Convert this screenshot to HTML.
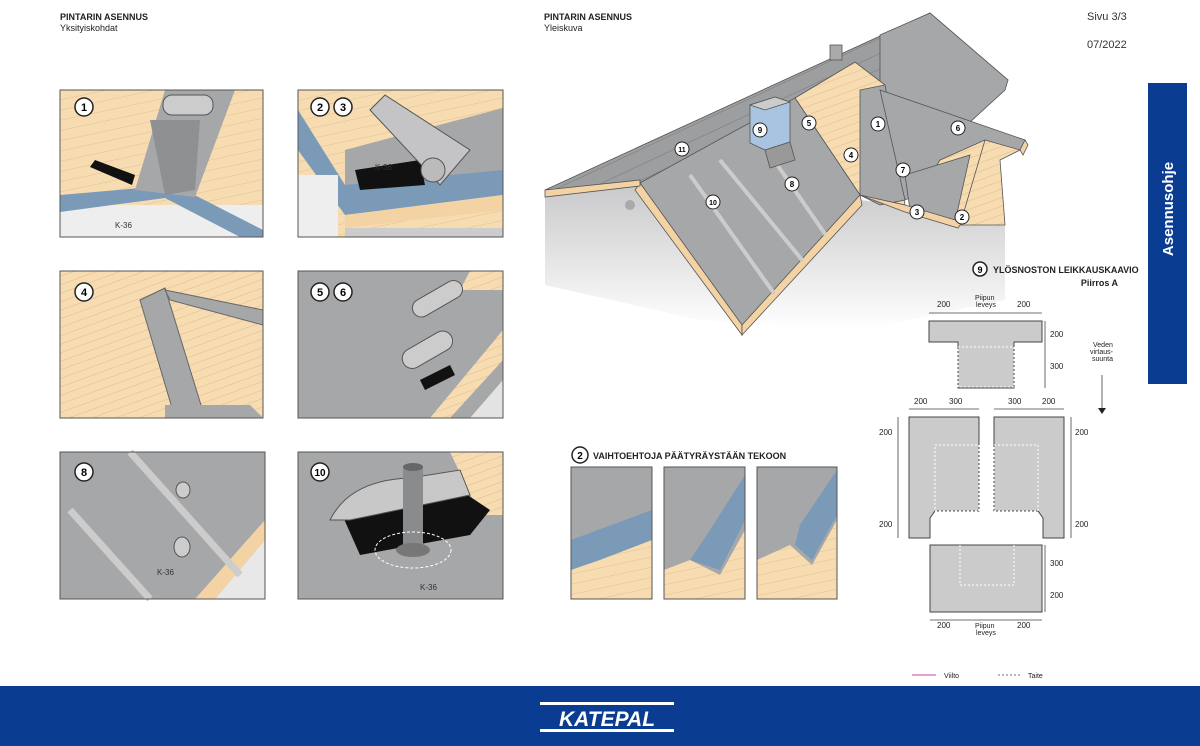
<!DOCTYPE html>
<html><head><meta charset="utf-8"><style>
body{margin:0;width:1200px;height:746px;overflow:hidden;background:#fff;font-family:"Liberation Sans",sans-serif}
svg{position:absolute;left:0;top:0}
</style></head><body>
<svg width="1200" height="746" viewBox="0 0 1200 746" font-family="Liberation Sans, sans-serif">
<defs>
<pattern id="wood" width="8" height="8" patternUnits="userSpaceOnUse" patternTransform="rotate(-20)"><rect width="8" height="8" fill="#f7dcb2"/><line x1="0" y1="0" x2="8" y2="0" stroke="#e0b98a" stroke-width="1"/></pattern>
<pattern id="woodh" width="10" height="10" patternUnits="userSpaceOnUse" patternTransform="rotate(-12)"><rect width="10" height="10" fill="#f7dcb2"/><line x1="0" y1="0" x2="10" y2="0" stroke="#e3bf92" stroke-width="1"/></pattern>
<pattern id="stripe" width="14" height="14" patternUnits="userSpaceOnUse" patternTransform="rotate(-25)"><rect width="14" height="14" fill="#9d9ea0"/><line x1="0" y1="0" x2="14" y2="0" stroke="#777" stroke-width="1"/></pattern>
<linearGradient id="wall" x1="0" y1="0" x2="0" y2="1"><stop offset="0" stop-color="#c9c9cb"/><stop offset="1" stop-color="#fff"/></linearGradient>
<clipPath id="face"><polygon points="640,183 795,98 860,195 742,330"/></clipPath>
</defs>
<!-- headers -->
<g font-weight="bold" font-size="9" fill="#222">
<text x="60" y="20">PINTARIN ASENNUS</text><text x="60" y="31" font-weight="normal">Yksityiskohdat</text>
<text x="544" y="20">PINTARIN ASENNUS</text><text x="544" y="31" font-weight="normal">Yleiskuva</text>
</g>
<text x="1087" y="20" font-size="11" fill="#333">Sivu 3/3</text>
<text x="1087" y="48" font-size="11" fill="#333">07/2022</text>
<rect x="1148" y="83" width="39" height="301" fill="#0a3d91"/>
<text transform="translate(1173,209) rotate(-90)" font-size="15" font-weight="bold" fill="#fff" text-anchor="middle">Asennusohje</text>

<!-- panel 1 -->
<g>
<rect x="60" y="90" width="203" height="147" fill="url(#woodh)"/>
<rect x="60" y="205" width="203" height="32" fill="#eee"/>
<polygon points="60,195 175,185 263,230 263,237 240,237 165,198 60,212" fill="#7a9ab8"/>
<polygon points="135,190 165,90 235,90 195,197" fill="#a6a7a9"/>
<polygon points="150,120 200,120 195,190 165,195" fill="#8f9092"/>
<rect x="163" y="95" width="50" height="20" rx="9" fill="#ccc" stroke="#555"/>
<polygon points="95,160 135,175 132,185 90,167" fill="#111"/>
<circle cx="84" cy="107" r="9" fill="#fff" stroke="#222" stroke-width="1.5"/><text x="84" y="111" font-size="11" font-weight="bold" text-anchor="middle">1</text>
<text x="115" y="228" font-size="8" fill="#333">K-36</text>
<rect x="60" y="90" width="203" height="147" fill="none" stroke="#555"/>
</g>
<!-- panel 2 -->
<g>
<rect x="298" y="90" width="205" height="147" fill="url(#woodh)"/>
<polygon points="345,150 503,108 503,180 345,200" fill="#a6a7a9"/>
<polygon points="298,110 345,185 503,170 503,195 345,215 298,150" fill="#7a9ab8"/>
<polygon points="345,215 503,195 503,210 345,228" fill="#f3d3a4"/>
<rect x="298" y="175" width="40" height="62" fill="#eee"/>
<rect x="345" y="228" width="158" height="9" fill="#ccc"/>
<polygon points="355,170 420,160 425,185 360,190" fill="#111"/>
<polygon points="370,110 385,95 470,150 440,185" fill="#c4c4c6" stroke="#555"/>
<circle cx="433" cy="170" r="12" fill="#bbb" stroke="#555"/>
<circle cx="320" cy="107" r="9" fill="#fff" stroke="#222" stroke-width="1.5"/><text x="320" y="111" font-size="11" font-weight="bold" text-anchor="middle">2</text>
<circle cx="343" cy="107" r="9" fill="#fff" stroke="#222" stroke-width="1.5"/><text x="343" y="111" font-size="11" font-weight="bold" text-anchor="middle">3</text>
<text x="375" y="170" font-size="8" fill="#333">K-36</text>
<rect x="298" y="90" width="205" height="147" fill="none" stroke="#555"/>
</g>
<!-- panel 4 -->
<g>
<rect x="60" y="271" width="203" height="147" fill="url(#wood)"/>
<polygon points="140,300 165,288 205,418 175,418" fill="#a6a7a9" stroke="#666"/>
<polygon points="165,290 263,310 263,325 170,300" fill="#a6a7a9" stroke="#666"/>
<polygon points="165,405 250,405 263,418 165,418" fill="#a6a7a9"/>
<circle cx="84" cy="292" r="9" fill="#fff" stroke="#222" stroke-width="1.5"/><text x="84" y="296" font-size="11" font-weight="bold" text-anchor="middle">4</text>
<rect x="60" y="271" width="203" height="147" fill="none" stroke="#555"/>
</g>
<!-- panel 5 -->
<g>
<rect x="298" y="271" width="205" height="147" fill="#a6a7a9"/>
<polygon points="430,418 503,330 503,271 470,271 460,290 503,290 503,360 450,418" fill="url(#wood)"/>
<polygon points="470,418 503,380 503,418" fill="#e3e3e3"/>
<rect x="410" y="290" width="55" height="18" rx="9" fill="#ccc" stroke="#555" transform="rotate(-30 437 299)"/>
<rect x="400" y="340" width="55" height="20" rx="10" fill="#ccc" stroke="#555" transform="rotate(-30 427 350)"/>
<polygon points="420,380 450,365 455,375 425,390" fill="#111"/>
<circle cx="320" cy="292" r="9" fill="#fff" stroke="#222" stroke-width="1.5"/><text x="320" y="296" font-size="11" font-weight="bold" text-anchor="middle">5</text>
<circle cx="343" cy="292" r="9" fill="#fff" stroke="#222" stroke-width="1.5"/><text x="343" y="296" font-size="11" font-weight="bold" text-anchor="middle">6</text>
<rect x="298" y="271" width="205" height="147" fill="none" stroke="#555"/>
</g>
<!-- panel 8 -->
<g>
<rect x="60" y="452" width="205" height="147" fill="#a6a7a9"/>
<polygon points="195,599 265,520 265,540 215,599" fill="#f3d3a4"/>
<polygon points="215,599 265,540 265,599" fill="#e8e8e8"/>
<line x1="70" y1="510" x2="150" y2="599" stroke="#ccc" stroke-width="7"/>
<line x1="130" y1="452" x2="240" y2="575" stroke="#ccc" stroke-width="7"/>
<ellipse cx="183" cy="490" rx="7" ry="8" fill="#ccc" stroke="#555"/>
<ellipse cx="182" cy="547" rx="8" ry="10" fill="#ccc" stroke="#555"/>
<circle cx="84" cy="472" r="9" fill="#fff" stroke="#222" stroke-width="1.5"/><text x="84" y="476" font-size="11" font-weight="bold" text-anchor="middle">8</text>
<text x="157" y="575" font-size="8" fill="#333">K-36</text>
<rect x="60" y="452" width="205" height="147" fill="none" stroke="#555"/>
</g>
<!-- panel 10 -->
<g>
<rect x="298" y="452" width="205" height="147" fill="#a6a7a9"/>
<polygon points="450,452 503,452 503,515 480,515" fill="url(#wood)"/>
<polygon points="340,510 460,490 490,510 470,535 360,555" fill="#111"/>
<path d="M330,520 Q350,480 410,478 L460,470 L470,495 L350,520Z" fill="#c8c8c8" stroke="#555"/>
<rect x="403" y="467" width="20" height="80" fill="#8a8b8d"/>
<ellipse cx="413" cy="467" rx="10" ry="4" fill="#666"/>
<ellipse cx="413" cy="550" rx="17" ry="7" fill="#777"/>
<ellipse cx="413" cy="550" rx="38" ry="18" fill="none" stroke="#fff" stroke-dasharray="3 2"/>
<circle cx="320" cy="472" r="9" fill="#fff" stroke="#222" stroke-width="1.5"/><text x="320" y="476" font-size="10" font-weight="bold" text-anchor="middle">10</text>
<text x="420" y="590" font-size="8" fill="#333">K-36</text>
<rect x="298" y="452" width="205" height="147" fill="none" stroke="#555"/>
</g>
<!-- alternatives -->
<circle cx="580" cy="455" r="8" fill="#fff" stroke="#222" stroke-width="1.5"/><text x="580" y="459" font-size="10" font-weight="bold" text-anchor="middle">2</text>
<text x="593" y="459" font-size="9" font-weight="bold" fill="#222">VAIHTOEHTOJA PÄÄTYRÄYSTÄÄN TEKOON</text>
<g>
<rect x="571" y="467" width="81" height="132" fill="#a6a7a9"/>
<polygon points="571,540 652,510 652,540 600,560 571,570" fill="#7a9ab8"/>
<polygon points="571,570 600,560 652,540 652,599 571,599" fill="url(#woodh)"/>
<rect x="571" y="467" width="81" height="132" fill="none" stroke="#555"/>
<rect x="664" y="467" width="81" height="132" fill="#a6a7a9"/>
<polygon points="710,530 745,475 745,520 720,570 690,560" fill="#7a9ab8"/>
<polygon points="664,570 690,560 720,575 745,530 745,599 664,599" fill="url(#woodh)"/>
<rect x="664" y="467" width="81" height="132" fill="none" stroke="#555"/>
<rect x="757" y="467" width="80" height="132" fill="#a6a7a9"/>
<polygon points="800,525 837,470 837,515 812,560 795,545" fill="#7a9ab8"/>
<polygon points="757,560 790,545 812,565 837,520 837,599 757,599" fill="url(#woodh)"/>
<rect x="757" y="467" width="80" height="132" fill="none" stroke="#555"/>
</g>
<!-- overview roof -->
<polygon points="545,195 640,185 742,330 860,200 905,205 1005,225 1005,300 860,330 700,320 545,285" fill="url(#wall)"/>
<g stroke="#555" stroke-width="0.8">
<polygon points="545,190 930,13 1008,80 960,120 640,183" fill="url(#stripe)"/>
<polygon points="880,35 930,13 1008,80 1005,90 945,145 880,90" fill="#a6a7a9"/>
<polygon points="795,98 855,62 885,85 905,205 860,195" fill="url(#wood)"/>
<polygon points="640,183 795,98 860,195 742,330" fill="#a6a7a9"/>
<polygon points="860,90 885,85 905,200 880,205 860,195" fill="#a6a7a9"/>
<polygon points="880,90 1025,140 1020,150 905,200" fill="#a6a7a9"/>
<polygon points="940,160 985,140 975,200 955,225 910,210" fill="url(#wood)"/>
<polygon points="905,175 970,155 955,222 910,210" fill="#a6a7a9"/>
<polygon points="1020,150 1000,160 1005,225 960,225 985,140" fill="url(#wood)"/>
<polygon points="640,183 742,325 742,335 635,190" fill="#f3d3a4"/>
<polygon points="742,325 860,195 862,205 742,335" fill="#f3d3a4"/>
<polygon points="545,190 640,180 640,186 545,197" fill="#f3d3a4"/>
<polygon points="860,195 905,212 958,228 962,222 905,205" fill="#f3d3a4"/>
<polygon points="1020,150 1025,140 1028,145 1023,155" fill="#f3d3a4"/>
</g>
<g stroke="#ccc" stroke-width="4" clip-path="url(#face)">
<line x1="690" y1="175" x2="800" y2="330"/><line x1="720" y1="160" x2="835" y2="300"/><line x1="760" y1="140" x2="850" y2="270"/>
</g>
<g stroke="#555" stroke-width="0.8">
<polygon points="750,105 775,97 790,102 790,142 765,150 750,143" fill="#a8c4e0"/>
<polygon points="750,105 775,97 790,102 765,110" fill="#ccc"/>
<polygon points="765,150 790,142 795,160 770,168" fill="#999"/>
<rect x="830" y="45" width="12" height="15" fill="#aaa"/>
</g>
<circle cx="630" cy="205" r="5" fill="#aaa"/>
<g font-size="8" font-weight="bold" text-anchor="middle">
<g fill="#fff" stroke="#222" stroke-width="1"><circle cx="760" cy="130" r="7"/><circle cx="809" cy="123" r="7"/><circle cx="878" cy="124" r="7"/><circle cx="958" cy="128" r="7"/><circle cx="851" cy="155" r="7"/><circle cx="903" cy="170" r="7"/><circle cx="792" cy="184" r="7"/><circle cx="682" cy="149" r="7"/><circle cx="713" cy="202" r="7"/><circle cx="917" cy="212" r="7"/><circle cx="962" cy="217" r="7"/></g>
<text x="760" y="133">9</text><text x="809" y="126">5</text><text x="878" y="127">1</text><text x="958" y="131">6</text><text x="851" y="158">4</text><text x="903" y="173">7</text><text x="792" y="187">8</text><text x="682" y="152" font-size="7">11</text><text x="713" y="205" font-size="7">10</text><text x="917" y="215">3</text><text x="962" y="220">2</text>
</g>
<!-- cutting diagram -->
<circle cx="980" cy="269" r="7" fill="#fff" stroke="#222" stroke-width="1.5"/><text x="980" y="273" font-size="9" font-weight="bold" text-anchor="middle">9</text>
<text x="993" y="273" font-size="9" font-weight="bold" fill="#222">YLÖSNOSTON LEIKKAUSKAAVIO</text>
<text x="1118" y="286" font-size="9" font-weight="bold" fill="#222" text-anchor="end">Piirros A</text>
<g fill="#cbcbcb" stroke="#444" stroke-width="1">
<polygon points="929,321 1042,321 1042,342 1014,342 1014,388 958,388 958,342 929,342"/>
<polygon points="909,417 979,417 979,511 935,511 930,518 930,538 909,538"/>
<polygon points="994,417 1064,417 1064,538 1043,538 1043,518 1038,511 994,511"/>
<polygon points="930,545 1042,545 1042,612 930,612"/>
</g>
<g fill="none" stroke="#fff" stroke-dasharray="2 2">
<rect x="958" y="347" width="56" height="40"/><rect x="935" y="445" width="44" height="66"/><rect x="994" y="445" width="44" height="66"/><polyline points="960,545 960,585 1014,585 1014,545"/>
</g>
<g font-size="8" fill="#222">
<text x="937" y="307">200</text><text x="1017" y="307">200</text><text x="975" y="300" font-size="7">Piipun</text><text x="976" y="307" font-size="7">leveys</text>
<text x="1050" y="337">200</text><text x="1050" y="369">300</text>
<text x="914" y="404">200</text><text x="949" y="404">300</text><text x="1008" y="404">300</text><text x="1042" y="404">200</text>
<text x="879" y="435">200</text><text x="879" y="527">200</text><text x="1075" y="435">200</text><text x="1075" y="527">200</text>
<text x="1050" y="566">300</text><text x="1050" y="598">200</text>
<text x="937" y="628">200</text><text x="1017" y="628">200</text><text x="975" y="628" font-size="7">Piipun</text><text x="976" y="635" font-size="7">leveys</text>
<text x="1093" y="347" font-size="7">Veden</text><text x="1090" y="354" font-size="7">virtaus-</text><text x="1092" y="361" font-size="7">suunta</text>
<text x="944" y="678" font-size="7">Viilto</text><text x="1028" y="678" font-size="7">Taite</text>
</g>
<g stroke="#444" stroke-width="0.8">
<line x1="929" y1="313" x2="1042" y2="313"/><line x1="1045" y1="321" x2="1045" y2="388"/><line x1="909" y1="409" x2="979" y2="409"/><line x1="994" y1="409" x2="1064" y2="409"/>
<line x1="898" y1="417" x2="898" y2="538"/><line x1="1071" y1="417" x2="1071" y2="538"/><line x1="1045" y1="545" x2="1045" y2="612"/><line x1="930" y1="620" x2="1042" y2="620"/>
<line x1="1102" y1="375" x2="1102" y2="410"/><line x1="912" y1="675" x2="936" y2="675" stroke="#b08"/><line x1="998" y1="675" x2="1022" y2="675" stroke-dasharray="2 2"/>
</g>
<polygon points="1098,408 1106,408 1102,414" fill="#222"/>
<!-- footer -->
<rect x="0" y="686" width="1200" height="60" fill="#0a3d91"/>
<rect x="540" y="702" width="134" height="3" fill="#fff"/><rect x="540" y="729" width="134" height="3" fill="#fff"/>
<text x="607" y="726" font-size="21" font-weight="bold" font-style="italic" fill="#fff" text-anchor="middle">KATEPAL</text>
</svg>
</body></html>
